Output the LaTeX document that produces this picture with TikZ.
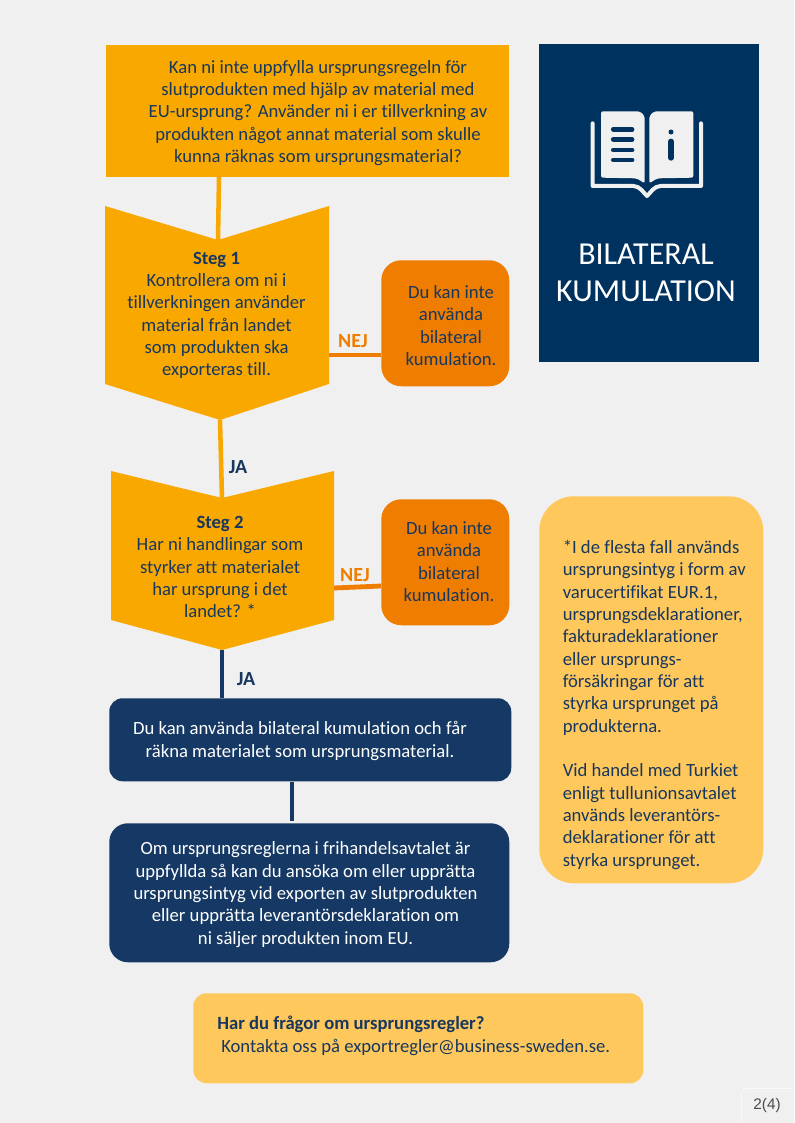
\documentclass[tikz,border=0pt]{standalone}
\usepackage{fontspec}
\setmainfont{Carlito}[Ligatures=NoCommon]
\newfontfamily\pagefont{Liberation Sans}
\usepackage{tikz}
\usetikzlibrary{positioning, arrows.meta, calc}
\definecolor{accAmber}{RGB}{249, 168, 0}
\definecolor{accOrange}{RGB}{239, 125, 0}
\definecolor{accNavy}{RGB}{0, 50, 96}
\definecolor{accBlue}{RGB}{21, 57, 100}
\definecolor{accSoft}{RGB}{255, 200, 92}
\definecolor{accPage}{RGB}{240, 240, 240}
\definecolor{txtBlue}{RGB}{23, 55, 94}

\begin{document}
\begin{tikzpicture}[
    x=0.75pt, y=-0.75pt,
    font=\fontsize{14}{16.75}\selectfont\color{txtBlue},
    txt/.style={inner sep=0pt, align=center},
    box/.style={draw=none, inner sep=0pt, anchor=north west},
    rbox/.style={rounded corners=15pt, fill=accOrange},
    lab/.style={inner sep=0pt, font=\fontsize{15}{17}\selectfont\bfseries},
    amb/.style={line width=3.4pt, accAmber},
    org/.style={line width=3.6pt, accOrange},
    nav/.style={line width=3.6pt, accBlue}
]
\fill[accPage] (0,0) rectangle (794,1123);
\useasboundingbox (0,0) rectangle (794,1123);

% top question
\node[box, fill=accAmber, minimum width=403*0.75pt, minimum height=132*0.75pt] (ques) at (106,45) {};
\node[txt] (questxt) at (318,113) {Kan ni inte uppfylla ursprungsregeln för\\slutprodukten med hjälp av material med\\EU-ursprung? Använder ni i er tillverkning av\\produkten något annat material som skulle\\kunna räknas som ursprungsmaterial?};

% title
\node[box, fill=accNavy, minimum width=220*0.75pt, minimum height=318*0.75pt] (title) at (539,44) {};
\node[txt, font=\fontsize{24}{27.8}\selectfont, text=white] (titletxt) at (646,273) {BILATERAL\\KUMULATION};

% book icon
\begin{scope}[shift={(530,40)}, x=0.25pt, y=-0.25pt]
\fill[accPage, rounded corners=1.5pt] (213,214) -- (330,214) -- (344,228) -- (344,430) -- (320,415) -- (213,413) -- cycle;
\fill[accPage, rounded corners=1.5pt] (490,214) -- (372,214) -- (358,228) -- (358,430) -- (382,415) -- (490,413) -- cycle;
\draw[accPage, line width=3pt, line join=round, line cap=round] (188,250) -- (188,438) -- (310,438) .. controls (330,438) and (340,458) .. (351,468) .. controls (362,458) and (372,438) .. (392,438) -- (513,438) -- (513,250);
\foreach \yy in {268,298,330,360}
  \draw[accNavy, line width=3.6pt, line cap=round] (250,\yy) -- (306,\yy);
\fill[accNavy] (423,276) circle (7.5);
\draw[accNavy, line width=4pt, line cap=round] (423,304) -- (423,354);
\end{scope}

% steg 1
\coordinate (s1top) at (218,240);
\coordinate (s1tip) at (220,420);
\fill[accAmber] (105,206) -- (s1top) -- (329,206) -- (329,384) -- (s1tip) -- (105,384) -- cycle;
\node[txt] (s1txt) at (216.5,315.5) {\textbf{Steg 1}\\Kontrollera om ni i\\tillverkningen använder\\material från landet\\som produkten ska\\exporteras till.};
\coordinate (s1r) at (329,355);

% nej 1
\node[box, rbox, minimum width=128*0.75pt, minimum height=126*0.75pt] (nej1) at (381,260) {};
\node[txt] (nej1txt) at (451,325.5) {Du kan inte\\använda\\bilateral\\kumulation.};
\coordinate (n1l) at (381,355);

% steg 2
\coordinate (s2top) at (222,498);
\coordinate (s2tip) at (222,650);
\fill[accAmber] (111,471) -- (s2top) -- (334,471) -- (334,620) -- (s2tip) -- (111,620) -- cycle;
\node[txt] (s2txt) at (220,567) {\textbf{Steg 2}\\Har ni handlingar som\\styrker att materialet\\har ursprung i det\\landet? *};
\coordinate (s2r) at (334,588);

% nej 2
\node[box, rbox, minimum width=128*0.75pt, minimum height=126*0.75pt] (nej2) at (381,499) {};
\node[txt] (nej2txt) at (449,561.5) {Du kan inte\\använda\\bilateral\\kumulation.};
\coordinate (n2l) at (381,586);

% ja box
\node[box, fill=accBlue, rounded corners=10pt, minimum width=402*0.75pt, minimum height=83*0.75pt] (kan) at (109,698) {};
\node[txt, text=white] (kantxt) at (300,741) {Du kan använda bilateral kumulation och får\\räkna materialet som ursprungsmaterial.};

\node[box, fill=accBlue, rounded corners=14pt, minimum width=400*0.75pt, minimum height=139*0.75pt] (om) at (109,823) {};
\node[txt, text=white] (omtxt) at (305.5,894.5) {Om ursprungsreglerna i frihandelsavtalet är\\uppfyllda så kan du ansöka om eller upprätta\\ursprungsintyg vid exporten av slutprodukten\\eller upprätta leverantörsdeklaration om\\ni säljer produkten inom EU.};

% side note
\node[box, fill=accSoft, rounded corners=26pt, minimum width=224*0.75pt, minimum height=387*0.75pt] (note) at (539,496) {};
\node[txt, align=left, anchor=north west] (notetxt) at (562.5,540) {*I de flesta fall används\\ursprungsintyg i form av\\varucertifikat EUR.1,\\ursprungsdeklarationer,\\fakturadeklarationer\\eller ursprungs-\\försäkringar för att\\styrka ursprunget på\\produkterna.\\[16.75pt]Vid handel med Turkiet\\enligt tullunionsavtalet\\används leverantörs-\\deklarationer för att\\styrka ursprunget.};

% contact
\node[box, fill=accSoft, rounded corners=10pt, minimum width=450*0.75pt, minimum height=90*0.75pt] (kontakt) at (193,993) {};
\node[txt, align=left, anchor=north west] (kontakttxt) at (217,1016) {\textbf{Har du frågor om ursprungsregler?}\\\hspace*{3pt}Kontakta oss på exportregler@business-sweden.se.};

% page number
\node[box, draw=white!60!accPage, rounded corners=4pt, line width=0.6pt, minimum width=56*0.75pt, minimum height=40*0.75pt] (sida) at (741,1088) {};
\node[txt, font=\pagefont\fontsize{11.5}{13}\selectfont, text=black!70] (sidatxt) at (767,1106) {2(4)};

% connectors
\coordinate (qbot) at (219,177);
\coordinate (kanb) at (292,782);
\coordinate (omt) at (292,821);
\coordinate (kant) at (222,698);
\draw[amb] (qbot) -- (s1top);
\draw[amb] (s1tip) -- (s2top);
\draw[nav] (s2tip) -- (kant);
\draw[nav] (kanb) -- (omt);
\draw[org] (s1r) -- (n1l);
\draw[org] (s2r) -- (n2l);

\node[lab, text=accOrange] (nej1lab) at (353,341) {NEJ};
\node[lab, text=accOrange] (nej2lab) at (355,575) {NEJ};
\node[lab, text=txtBlue] (ja1lab) at (238,467) {JA};
\node[lab, text=txtBlue] (ja2lab) at (246,679) {JA};
\end{tikzpicture}
\end{document}
